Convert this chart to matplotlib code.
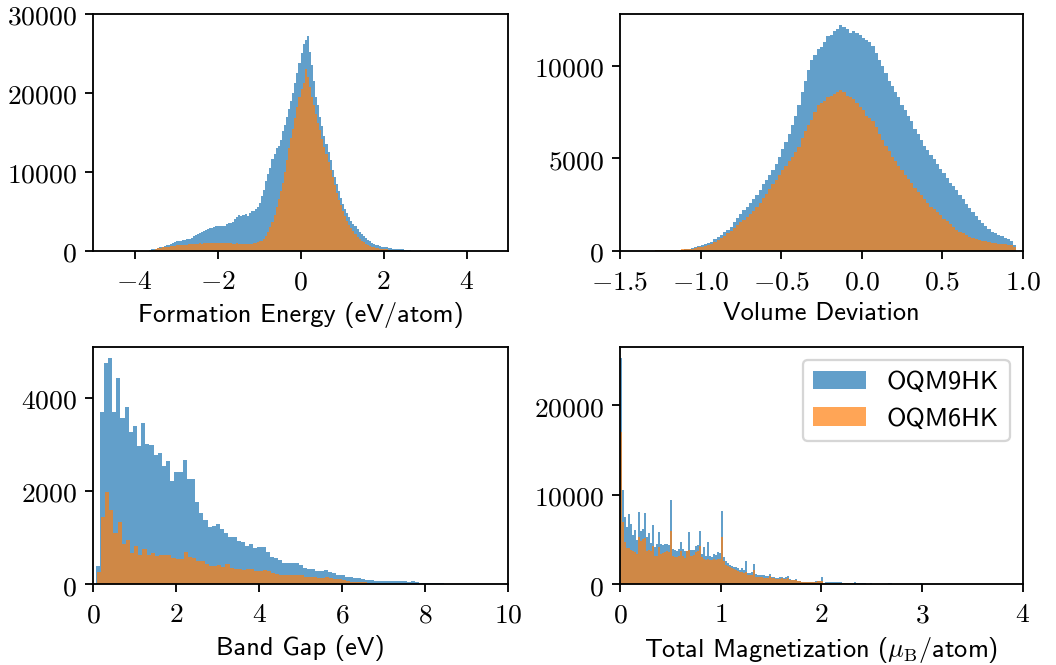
import numpy as np
import matplotlib
matplotlib.use("Agg")
import matplotlib.pyplot as plt
from matplotlib.ticker import FuncFormatter

plt.rcParams['mathtext.fontset'] = 'cm'
plt.rcParams['font.size'] = 12

# ---- formation energy (eV/atom), bins of 0.05
form_bin = 0.05
form_start_9 = -3.65
form_oqm9 = [150, 200, 250, 300, 400, 450, 500, 600, 700, 800,
             900, 1000, 1100, 1200, 1250, 1300, 1350, 1400, 1500, 1550,
             1700, 1900, 2000, 2100, 2300, 2400, 2500, 2700, 2800, 2900,
             2950, 3050, 3100, 3100, 3150, 3100, 3200, 3400, 3600, 3500,
             3700, 4000, 4300, 4500, 4400, 4600, 4700, 4400, 4800, 5000,
             5100, 5300, 5600, 6100, 6900, 7700, 8800, 9800, 10500, 11600,
             12300, 13000, 13300, 14000, 15200, 16000, 17000, 18000, 19000, 20000,
             21200, 22500, 23800, 25000, 26200, 26700, 27200, 25200, 23500, 21500,
             19500, 18500, 17000, 15800, 14500, 13500, 12500, 11500, 10300, 9400,
             8500, 7600, 6700, 6000, 5300, 4800, 4300, 3800, 3400, 3100,
             2800, 2400, 2100, 1900, 1600, 1400, 1200, 1050, 900, 800,
             700, 600, 550, 500, 450, 400, 350, 300, 300, 250,
             250, 200, 200, 150, 150, 100]
form_start_6 = -3.55
form_oqm6 = [150, 250, 350, 400, 450, 500, 550, 550, 600, 650,
             650, 700, 700, 750, 750, 800, 800, 850, 850, 900,
             900, 900, 950, 900, 950, 950, 1000, 950, 1000, 1000,
             1050, 1000, 1000, 950, 1000, 950, 950, 950, 900, 900,
             950, 900, 900, 850, 900, 850, 900, 900, 950, 1000,
             1100, 1200, 1300, 1500, 1900, 2400, 3000, 3700, 4600, 5600,
             6600, 7600, 8600, 10000, 11500, 13000, 14300, 15500, 16800, 18200,
             19500, 20500, 21300, 23000, 22000, 20700, 19500, 18500, 17300, 16200,
             15300, 14200, 13200, 12300, 11200, 10200, 9300, 8300, 7400, 6500,
             5800, 5000, 4400, 3800, 3300, 2900, 2500, 2100, 1800, 1500,
             1300, 1100, 900, 800, 650, 550, 450, 400, 350, 300,
             250, 200, 200, 150, 150, 100, 100, 80, 60]

# ---- volume deviation, bins of 0.02
vol_bin = 0.02
vol_start = -1.28
vol_oqm9 = [30, 30, 30, 40, 40, 40, 50, 60, 70, 80,
            120, 150, 200, 250, 300, 350, 420, 500, 620, 750,
            870, 1000, 1150, 1300, 1550, 1800, 2000, 2200, 2400, 2600,
            2800, 3000, 3300, 3600, 3850, 4100, 4400, 4700, 5100, 5500,
            5900, 6300, 6800, 7300, 7900, 8600, 9200, 9800, 10300, 10600,
            10900, 11000, 11300, 11600, 11700, 11900, 12000, 12200, 12100, 12000,
            11800, 11900, 11800, 11700, 11500, 11400, 11300, 11100, 10700, 10300,
            10000, 9600, 9200, 8900, 8600, 8300, 7900, 7600, 7300, 7000,
            6600, 6300, 6000, 5700, 5450, 5200, 4950, 4700, 4450, 4200,
            3950, 3700, 3500, 3300, 3050, 2800, 2550, 2300, 2100, 1900,
            1700, 1500, 1350, 1200, 1050, 950, 870, 800, 720, 650,
            550, 300]
vol_oqm6 = [50, 50, 50, 60, 60, 60, 70, 70, 80, 80,
            100, 130, 160, 200, 230, 270, 300, 380, 480, 580,
            700, 830, 960, 1100, 1250, 1400, 1550, 1700, 1850, 2000,
            2150, 2350, 2600, 2850, 3100, 3350, 3600, 3850, 4100, 4350,
            4600, 4850, 5100, 5350, 5600, 6100, 6500, 6800, 7100, 7500,
            7900, 8000, 8100, 8300, 8400, 8500, 8600, 8700, 8600, 8400,
            8300, 8200, 8000, 7800, 7600, 7300, 7200, 7000, 6700, 6300,
            6000, 5700, 5400, 5100, 4850, 4600, 4350, 4100, 3900, 3650,
            3400, 3200, 3000, 2800, 2600, 2400, 2250, 2100, 1950, 1750,
            1600, 1450, 1300, 1150, 1050, 950, 850, 750, 700, 650,
            600, 550, 520, 480, 450, 420, 400, 380, 350, 330,
            300, 200]

# ---- band gap (eV), bins of 0.1
gap_bin = 0.1
gap_start_9 = 0.06
gap_oqm9 = [390, 3700, 4750, 4850, 3700, 4420, 3570, 3800, 3270, 3390,
            2960, 3470, 3010, 2980, 2770, 2820, 2530, 2640, 2210, 2400,
            2400, 2660, 2260, 2260, 1760, 1530, 1380, 1230, 1250, 1290,
            1190, 1090, 1020, 1020, 930, 910, 820, 860, 770, 800,
            800, 680, 590, 560, 510, 460, 460, 460, 460, 410,
            340, 330, 330, 290, 290, 310, 250, 235, 200, 185,
            140, 150, 130, 130, 110, 90, 80, 70, 70, 60,
            60, 70, 70, 70, 60, 50, 70, 50, 30, 20,
            20, 20, 20, 20, 10]
gap_start_6 = 0.09
gap_oqm6 = [260, 1440, 1975, 1600, 1090, 1340, 860, 950, 660, 820,
            630, 760, 630, 660, 610, 620, 620, 620, 560, 540,
            540, 680, 580, 560, 490, 490, 430, 390, 390, 410,
            360, 430, 340, 320, 320, 310, 320, 320, 285, 290,
            310, 270, 235, 215, 185, 185, 200, 200, 185, 185,
            150, 150, 150, 135, 120, 150, 130, 110, 110, 80,
            60, 50, 50, 40, 40, 30]

# ---- total magnetization (muB/atom), bins of 0.02
mag_bin = 0.02
mag_start = 0.0
mag_oqm9 = [25250, 10470, 7550, 6430, 7780, 6660, 5535, 6060, 4940, 8000,
            5980, 6170, 7890, 5240, 5760, 4640, 6545, 4190, 4490, 5870,
            4490, 4375, 4490, 4490, 4400, 9350, 3930, 3815, 3740, 3930,
            4750, 3930, 3740, 3740, 5870, 3815, 3815, 4300, 4410, 5980,
            3370, 4190, 3180, 4750, 3180, 3070, 3370, 3290, 3630, 3500,
            8120, 3070, 2620, 2320, 2170, 2050, 1950, 1870, 1760, 1570,
            1800, 1570, 2620, 1270, 1270, 1350, 2240, 1120, 1010, 1010,
            1010, 1050, 935, 935, 1120, 785, 785, 710, 670, 820,
            785, 710, 785, 935, 520, 490, 490, 600, 370, 370,
            260, 260, 260, 260, 260, 260, 260, 300, 370, 370,
            820, 150, 200, 180, 200, 220, 200, 200, 180, 200,
            150, 120, 150, 100, 100, 100, 180, 80, 80, 60,
            60, 60, 50, 50, 150, 50, 40, 40, 30, 30,
            20, 20, 20, 100, 100, 20, 10, 10, 10, 10,
            10, 10, 10, 10, 10, 10, 10, 10, 10, 80]
mag_oqm6 = [17020, 6880, 4750, 4040, 4040, 3815, 3665, 3630, 3370, 5310,
            4860, 5050, 5160, 3740, 3815, 3665, 4300, 3180, 3180, 4190,
            3370, 3440, 3550, 3665, 3600, 5980, 3180, 3070, 3000, 3180,
            3665, 3180, 2920, 3740, 3815, 3180, 3290, 3550, 3665, 4300,
            3000, 2800, 2690, 2800, 2690, 2690, 2800, 2690, 2770, 2800,
            5310, 2620, 2170, 2020, 1870, 1760, 1650, 1570, 1420, 1350,
            1310, 1270, 1310, 1010, 1010, 1050, 1570, 820, 800, 750,
            750, 710, 700, 720, 860, 650, 620, 600, 600, 600,
            620, 600, 600, 640, 450, 430, 420, 410, 300, 280,
            225, 225, 225, 225, 225, 225, 225, 240, 340, 340,
            370, 150, 110, 110, 110, 110, 110, 110, 100, 100,
            90, 80, 80, 70, 60, 60, 50, 50, 40, 40,
            40, 30, 30, 30, 30, 20, 20, 20, 20]

labels = ['OQM9HK', 'OQM6HK']
label_size = 11.5


def draw_hist(ax, start, width, heights, label):
    n = len(heights)
    edges = start + width * np.arange(n + 1)
    centers = start + width * (np.arange(n) + 0.5)
    ax.hist(centers, bins=edges, weights=heights, alpha=0.7, label=label)


def fmt(decimals):
    def f(v, pos):
        s = '%.*f' % (decimals, v)
        return '$' + s + '$'
    return FuncFormatter(f)


fig = plt.figure(figsize=(1056 / 165, 665 / 165))
ax1 = fig.add_axes([0.0881, 0.6226, 0.3930, 0.3564])
ax2 = fig.add_axes([0.5871, 0.6226, 0.3816, 0.3564])
ax3 = fig.add_axes([0.0881, 0.1218, 0.3930, 0.3564])
ax4 = fig.add_axes([0.5871, 0.1218, 0.3816, 0.3564])

draw_hist(ax1, form_start_9, form_bin, form_oqm9, labels[0])
draw_hist(ax1, form_start_6, form_bin, form_oqm6, labels[1])
ax1.set_xlim(-5, 5)
ax1.set_ylim(0, 30000)
ax1.set_xticks([-4, -2, 0, 2, 4])
ax1.set_xlabel('Formation Energy (eV/atom)', fontfamily='cmss10', fontsize=label_size)

draw_hist(ax2, vol_start, vol_bin, vol_oqm9, labels[0])
draw_hist(ax2, vol_start, vol_bin, vol_oqm6, labels[1])
ax2.set_xlim(-1.5, 1.0)
ax2.set_xticks([-1.5, -1.0, -0.5, 0.0, 0.5, 1.0])
ax2.set_yticks([0, 5000, 10000])
ax2.set_xlabel('Volume Deviation', fontfamily='cmss10', fontsize=label_size)

draw_hist(ax3, gap_start_9, gap_bin, gap_oqm9, labels[0])
draw_hist(ax3, gap_start_6, gap_bin, gap_oqm6, labels[1])
ax3.set_xlim(0, 10)
ax3.set_yticks([0, 2000, 4000])
ax3.set_xlabel('Band Gap (eV)', fontfamily='cmss10', fontsize=label_size)

draw_hist(ax4, mag_start, mag_bin, mag_oqm9, labels[0])
draw_hist(ax4, mag_start, mag_bin, mag_oqm6, labels[1])
ax4.set_xlim(0, 4)
ax4.set_yticks([0, 10000, 20000])
ax4.set_xlabel(r'Total Magnetization ($\mu_\mathrm{B}$/atom)', fontfamily='cmss10',
               fontsize=label_size)
ax4.legend(loc='upper right', prop={'family': 'cmss10', 'size': label_size})

for ax, d in [(ax1, 0), (ax2, 1), (ax3, 0), (ax4, 0)]:
    ax.xaxis.set_major_formatter(fmt(d))
    ax.yaxis.set_major_formatter(fmt(0))
    ax.xaxis.labelpad = 3

fig.savefig('out.png', dpi=165)
